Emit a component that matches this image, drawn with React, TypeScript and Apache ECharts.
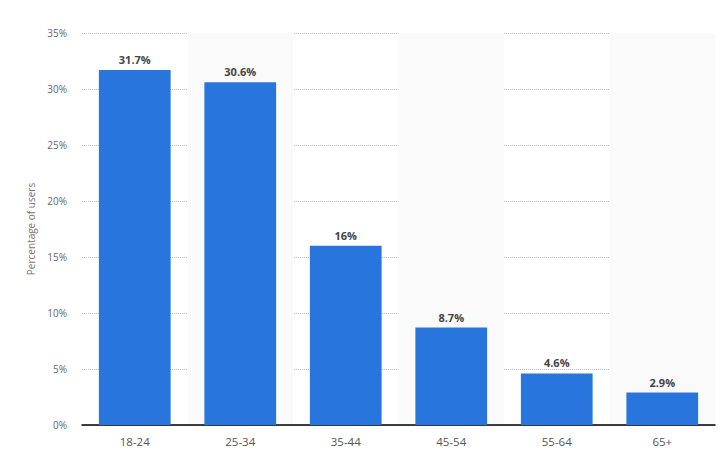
import React, { useEffect, useRef } from "react";
import * as echarts from "echarts";

const categories = ["18-24", "25-34", "35-44", "45-54", "55-64", "65+"];
const values = [31.7, 30.6, 16, 8.7, 4.6, 2.9];
const yTicks = { min: 0, max: 35, interval: 5 };

export default function App() {
  const ref = useRef<HTMLDivElement>(null);
  useEffect(() => {
    if (!ref.current) return;
    const chart = echarts.init(ref.current, null, { renderer: "svg" });
    chart.setOption({
      animation: false,
      backgroundColor: "#ffffff",
      textStyle: { fontFamily: "Open Sans" },
      grid: { left: 82, right: 3, top: 33, bottom: 47 },
      xAxis: {
        type: "category",
        data: categories,
        axisLine: { lineStyle: { color: "#000", width: 1.5 } },
        axisTick: { show: false },
        axisLabel: { color: "#555", fontSize: 11.5, margin: 10 },
        splitArea: {
          show: true,
          areaStyle: { color: ["rgba(255,255,255,0)", "#fafafa"] },
        },
      },
      yAxis: {
        type: "value",
        min: yTicks.min,
        max: yTicks.max,
        interval: yTicks.interval,
        name: "Percentage of users",
        nameLocation: "middle",
        nameGap: 42,
        nameTextStyle: { color: "#806e6e", fontSize: 10 },
        axisLine: { show: false },
        axisTick: { show: false },
        axisLabel: { color: "#666", fontSize: 10, formatter: "{value}%", margin: 15 },
        splitLine: { lineStyle: { color: "#bdbdbd", type: [1, 1], width: 1 } },
      },
      series: [
        {
          type: "bar",
          data: values,
          barWidth: "68%",
          itemStyle: { color: "#2975de" },
          label: {
            show: true,
            position: "top",
            distance: 5,
            formatter: "{c}%",
            color: "#444",
            fontWeight: "bold",
            fontSize: 11,
          },
        },
      ],
    });
    return () => chart.dispose();
  }, []);
  return (
    <div
      ref={ref}
      style={{ position: "fixed", left: 0, top: 0, width: 718, height: 472 }}
    />
  );
}
